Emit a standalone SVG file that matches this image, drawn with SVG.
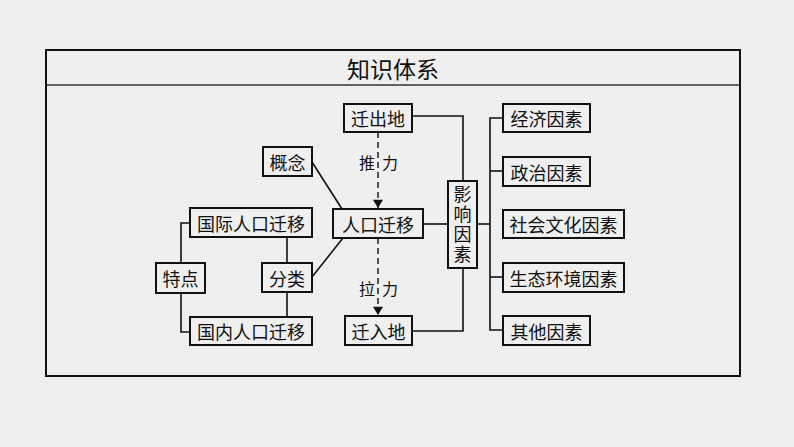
<svg xmlns="http://www.w3.org/2000/svg" width="794" height="447" viewBox="0 0 794 447">
<style>
.box{fill:none;stroke:#111;stroke-width:2}
.t{font-family:"Noto Sans CJK SC","Noto Sans",sans-serif;font-size:18px;fill:#111;text-anchor:middle;dominant-baseline:central}
.v{font-family:"Noto Sans CJK SC","Noto Sans",sans-serif;font-size:18px;fill:#111;text-anchor:middle;writing-mode:vertical-rl;letter-spacing:2px}
.s{font-family:"Noto Sans CJK SC","Noto Sans",sans-serif;font-size:16px;fill:#111;text-anchor:middle;dominant-baseline:central}
.c{fill:none;stroke:#111;stroke-width:1.6}
.d{fill:none;stroke:#111;stroke-width:1.4;stroke-dasharray:6,4}
</style>
<defs>
<marker id="ah" viewBox="0 0 10 12" refX="10" refY="6" markerWidth="9" markerHeight="10" markerUnits="userSpaceOnUse" orient="auto">
<path d="M0,0 L10,6 L0,12 Z" fill="#111"/>
</marker>
</defs>
<rect x="0" y="0" width="794" height="447" fill="#efefef"/>
<g id="frame">
<rect x="46" y="50" width="694" height="326" fill="none" stroke="#111" stroke-width="2"/>
<line x1="46" y1="85" x2="740" y2="85" stroke="#333" stroke-width="1.5"/>
<text x="393" y="68" style="font-family:'Noto Sans CJK SC',sans-serif;font-size:23px;fill:#111;text-anchor:middle;dominant-baseline:central">知识体系</text>
</g>
<g id="connectors">
<polyline class="c" points="190,223 181,223 181,263"/>
<polyline class="c" points="181,293 181,332 190,332"/>
<line class="c" x1="287" y1="237" x2="287" y2="263"/>
<line class="c" x1="287" y1="292" x2="287" y2="317"/>
<line class="c" x1="312" y1="162" x2="342" y2="209"/>
<line class="c" x1="312" y1="277" x2="343" y2="238"/>
<line class="d" x1="378" y1="132" x2="378" y2="208" marker-end="url(#ah)"/>
<line class="d" x1="378" y1="238" x2="378" y2="315" marker-end="url(#ah)"/>
<polyline class="c" points="412,116 463,116 463,181"/>
<polyline class="c" points="412,331 463,331 463,268"/>
<line class="c" x1="423" y1="224" x2="448" y2="224"/>
<line class="c" x1="477" y1="224" x2="490" y2="224"/>
<polyline class="c" points="503,118 490,118 490,330 503,330"/>
<line class="c" x1="490" y1="171" x2="503" y2="171"/>
<line class="c" x1="490" y1="277" x2="503" y2="277"/>
<text class="s" x="367" y="162">推</text>
<text class="s" x="390" y="162">力</text>
<text class="s" x="367" y="288">拉</text>
<text class="s" x="390" y="288">力</text>
</g>
<g id="n-qianchudi"><rect class="box" x="344" y="104" width="68" height="28"/><text class="t" x="378" y="118">迁出地</text></g>
<g id="n-gainian"><rect class="box" x="263" y="147" width="49" height="29"/><text class="t" x="287.5" y="161.5">概念</text></g>
<g id="n-renkouqianyi"><rect class="box" x="333" y="209" width="90" height="29"/><text class="t" x="378" y="223.5">人口迁移</text></g>
<g id="n-guoji"><rect class="box" x="190" y="208" width="122" height="29"/><text class="t" x="251" y="222.5">国际人口迁移</text></g>
<g id="n-tedian"><rect class="box" x="156" y="263" width="49" height="30"/><text class="t" x="180.5" y="278">特点</text></g>
<g id="n-fenlei"><rect class="box" x="262" y="263" width="50" height="29"/><text class="t" x="287" y="277.5">分类</text></g>
<g id="n-guonei"><rect class="box" x="190" y="317" width="122" height="28"/><text class="t" x="251" y="331">国内人口迁移</text></g>
<g id="n-qianrudi"><rect class="box" x="345" y="316" width="67" height="29"/><text class="t" x="378.5" y="330.5">迁入地</text></g>
<g id="n-yingxiang"><rect class="box" x="448" y="181" width="29" height="87"/>
<text class="v" x="462.5" y="225">影响因素</text></g>
<g id="n-jingji"><rect class="box" x="503" y="104" width="87" height="28"/><text class="t" x="546.5" y="118">经济因素</text></g>
<g id="n-zhengzhi"><rect class="box" x="503" y="157" width="87" height="29"/><text class="t" x="546.5" y="171.5">政治因素</text></g>
<g id="n-shehui"><rect class="box" x="503" y="210" width="121" height="28"/><text class="t" x="563.5" y="224">社会文化因素</text></g>
<g id="n-shengtai"><rect class="box" x="503" y="263" width="121" height="29"/><text class="t" x="563.5" y="277.5">生态环境因素</text></g>
<g id="n-qita"><rect class="box" x="503" y="316" width="87" height="29"/><text class="t" x="546.5" y="330.5">其他因素</text></g>
</svg>
